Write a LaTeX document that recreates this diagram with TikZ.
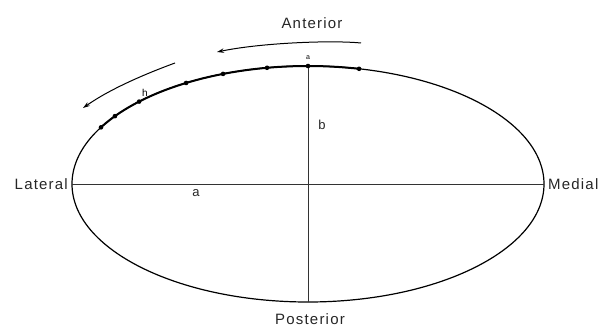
\documentclass[tikz,border=0pt]{standalone}
\usepackage{fontspec}
\setmainfont{Liberation Sans}
\usetikzlibrary{arrows.meta}
\begin{document}
\begin{tikzpicture}[x=1pt,y=-1pt,
  lbl/.style={font=\fontsize{15}{15}\selectfont\addfontfeatures{LetterSpace=8}, inner sep=0pt, text=black!85},
  small/.style={font=\fontsize{13}{13}\selectfont, inner sep=0pt, text=black!85},
  dotn/.style={circle, fill=black, inner sep=0pt, minimum size=4.6pt},
  curve/.style={line width=1.2pt},
  axis/.style={line width=0.9pt, draw=black!80},
  thickarc/.style={line width=2pt},
  arr/.style={line width=1pt, -{Stealth[length=7pt,width=4.5pt]}}]
\useasboundingbox (0,0) rectangle (602,329);
% ellipse
\coordinate (O) at (308,184);
\draw[curve] (O) ellipse [x radius=236pt, y radius=118pt];
% axes
\coordinate (Lft) at (72,184);
\coordinate (Rgt) at (544,184);
\coordinate (Top) at (308,66);
\coordinate (Bot) at (308,302);
\draw[axis] (Lft) -- (Rgt);
\draw[axis] (Top) -- (Bot);
% thick arc
\draw[thickarc, domain=77.5:151.3, samples=60, variable=\t]
  plot ({308+236*cos(\t)},{184-118*sin(\t)});
% dots
\foreach \ang/\nm in {77.5/d1, 90/d2, 100/d3, 111.1/d4, 121.1/d5, 135.7/d6, 144.9/d7, 151.3/d8}{
  \node[dotn] (\nm) at ({308+236*cos(\ang)},{184-118*sin(\ang)}) {};
}
% arrows
\coordinate (a1s) at (361,43);
\coordinate (a1e) at (217,52);
\draw[arr] (a1s) .. controls (330,40) and (260,43) .. (a1e);
\coordinate (a2s) at (175,63);
\coordinate (a2e) at (83,108);
\draw[arr] (a2s) .. controls (145,74) and (110,89) .. (a2e);
% labels
\node[lbl] (ant) at (312,23) {Anterior};
\node[lbl, anchor=east] (lat) at (68,184) {Lateral};
\node[lbl, anchor=west] (med) at (548,184) {Medial};
\node[lbl] (post) at (310,319) {Posterior};
\node[small] (lb) at (322,125) {b};
\node[small] (la) at (196,193) {a};
\node[font=\fontsize{7}{7}\selectfont, inner sep=0pt] (ta) at (308,58) {a};
\node[font=\fontsize{10}{10}\selectfont, inner sep=0pt] (th) at (145,93) {h};
\end{tikzpicture}
\end{document}
